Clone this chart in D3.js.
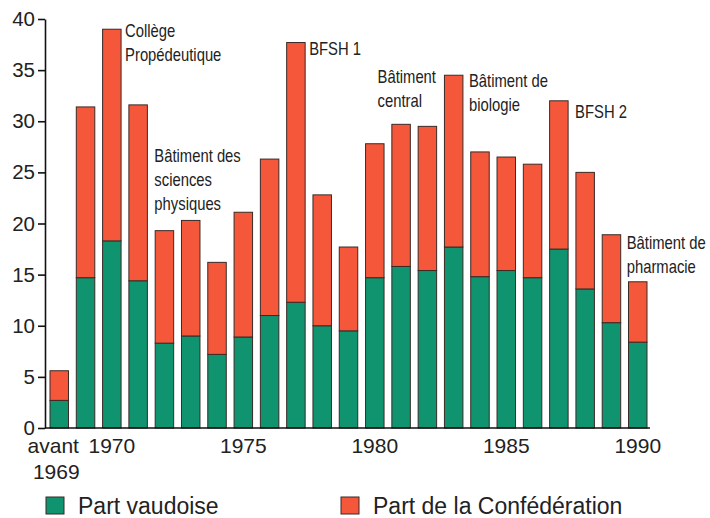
<!DOCTYPE html>
<html lang="fr">
<head>
<meta charset="UTF-8">
<script src="https://cdn.jsdelivr.net/npm/d3@7"></script>
<title>Investissements UNIL</title>
<style>
  body { margin: 0; background: #fff; }
</style>
</head>
<body>
<script>
// values (millions)
const categories = ["avant 1969", "1969", "1970", "1971", "1972", "1973", "1974", "1975",
  "1976", "1977", "1978", "1979", "1980", "1981", "1982", "1983", "1984", "1985",
  "1986", "1987", "1988", "1989", "1990"];
const partVaudoise = [2.7, 14.7, 18.3, 14.4, 8.3, 9.0, 7.2, 8.9, 11.0, 12.3, 10.0, 9.5,
  14.7, 15.8, 15.4, 17.7, 14.8, 15.4, 14.7, 17.5, 13.6, 10.3, 8.4];
const partConfederation = [2.9, 16.7, 20.7, 17.2, 11.0, 11.3, 9.0, 12.2, 15.3, 25.4, 12.8, 8.2,
  13.1, 13.9, 14.1, 16.8, 12.2, 11.1, 11.1, 14.5, 11.4, 8.6, 5.9];
const yTicks = [0, 5, 10, 15, 20, 25, 30, 35, 40];
const xTickLabels = ["avant 1969", "1970", "1975", "1980", "1985", "1990"];
const seriesNames = ["Part vaudoise", "Part de la Confédération"];
const noteBars = ["1970", "1971", "1977", "1980", "1983", "1987", "1989"];
const noteLines = [
  ["Collège", "Propédeutique"],
  ["Bâtiment des", "sciences", "physiques"],
  ["BFSH 1"],
  ["Bâtiment", "central"],
  ["Bâtiment de", "biologie"],
  ["BFSH 2"],
  ["Bâtiment de", "pharmacie"]
];

const width = 710, height = 518;
const colors = ["#10946f", "#f5573b"];
const edge = "#3a2a26";
const font = "'Liberation Sans', Arial, sans-serif";

const svg = d3.select("body").append("svg")
  .attr("width", width)
  .attr("height", height)
  .attr("viewBox", [0, 0, width, height]);

const x = d3.scaleBand()
  .domain(categories)
  .range([50, 647])
  .paddingInner(0.297)
  .paddingOuter(0);

const y = d3.scaleLinear()
  .domain([0, 40])
  .range([428, 19]);

const rows = categories.map((c, i) => ({ cat: c, vaud: partVaudoise[i], conf: partConfederation[i] }));
const stacked = d3.stack().keys(["vaud", "conf"])(rows);

svg.append("g")
  .selectAll("g")
  .data(stacked)
  .join("g")
  .attr("fill", (d, i) => colors[i])
  .selectAll("rect")
  .data(d => d)
  .join("rect")
  .attr("x", d => x(d.data.cat))
  .attr("y", d => y(d[1]))
  .attr("width", x.bandwidth())
  .attr("height", d => y(d[0]) - y(d[1]))
  .attr("stroke", edge)
  .attr("stroke-width", 1);

// y axis
svg.append("g")
  .attr("transform", "translate(45,0)")
  .call(d3.axisLeft(y).tickValues(yTicks).tickSize(7).tickPadding(3).tickSizeOuter(0))
  .call(g => g.selectAll("path, line").attr("stroke", "#111").attr("stroke-width", 1.6))
  .call(g => g.selectAll("text").attr("font-family", font).attr("font-size", 20.5).attr("fill", "#222"));

// x axis
const xAxis = svg.append("g")
  .attr("transform", `translate(0,${y(0)})`)
  .call(d3.axisBottom(x).tickValues(xTickLabels).tickSize(0).tickPadding(10))
  .call(g => g.select(".domain").remove())
  .call(g => g.selectAll("text").attr("font-family", font).attr("font-size", 21).attr("fill", "#222"));

xAxis.append("line")
  .attr("x1", 45)
  .attr("x2", x.range()[1] + 3)
  .attr("stroke", "#111")
  .attr("stroke-width", 1.6);

xAxis.selectAll(".tick text")
  .filter(d => d === "avant 1969")
  .each(function (d) {
    const t = d3.select(this).text(null);
    const parts = d.split(" ");
    t.append("tspan").attr("x", -6).text(parts[0]);
    t.append("tspan").attr("x", -3).attr("dy", "1.22em").text(parts[1]);
  });

// notes next to the bars (narrow type, squeezed horizontally)
const notePlace = [
  { dx: 4, v: 38.2 },
  { dx: 7, v: 26.0 },
  { dx: 4, v: 36.5 },
  { dx: 12, v: 33.7, left: true },
  { dx: 6, v: 33.35 },
  { dx: 7, v: 30.3 },
  { dx: 6, v: 17.5 }
];

noteBars.forEach((cat, i) => {
  const p = notePlace[i];
  const x0 = p.left ? x(cat) + p.dx : x(cat) + x.bandwidth() + p.dx;
  const t = svg.append("text")
    .attr("font-family", font)
    .attr("font-size", 18.5)
    .attr("fill", "#222")
    .attr("transform", `translate(${x0},${y(p.v)}) scale(0.8,1)`);
  noteLines[i].forEach((line, j) => {
    t.append("tspan").attr("x", 0).attr("dy", j === 0 ? 0 : 24).text(line);
  });
});

// legend
const legend = svg.append("g")
  .selectAll("g")
  .data(seriesNames)
  .join("g")
  .attr("transform", (d, i) => `translate(${[46, 341][i]},497)`);

legend.append("rect")
  .attr("width", 18)
  .attr("height", 17)
  .attr("fill", (d, i) => colors[i])
  .attr("stroke", edge)
  .attr("stroke-width", 1);

legend.append("text")
  .attr("x", 32)
  .attr("y", 17)
  .attr("font-family", font)
  .attr("font-size", 23)
  .attr("fill", "#222")
  .text(d => d);
</script>
</body>
</html>
